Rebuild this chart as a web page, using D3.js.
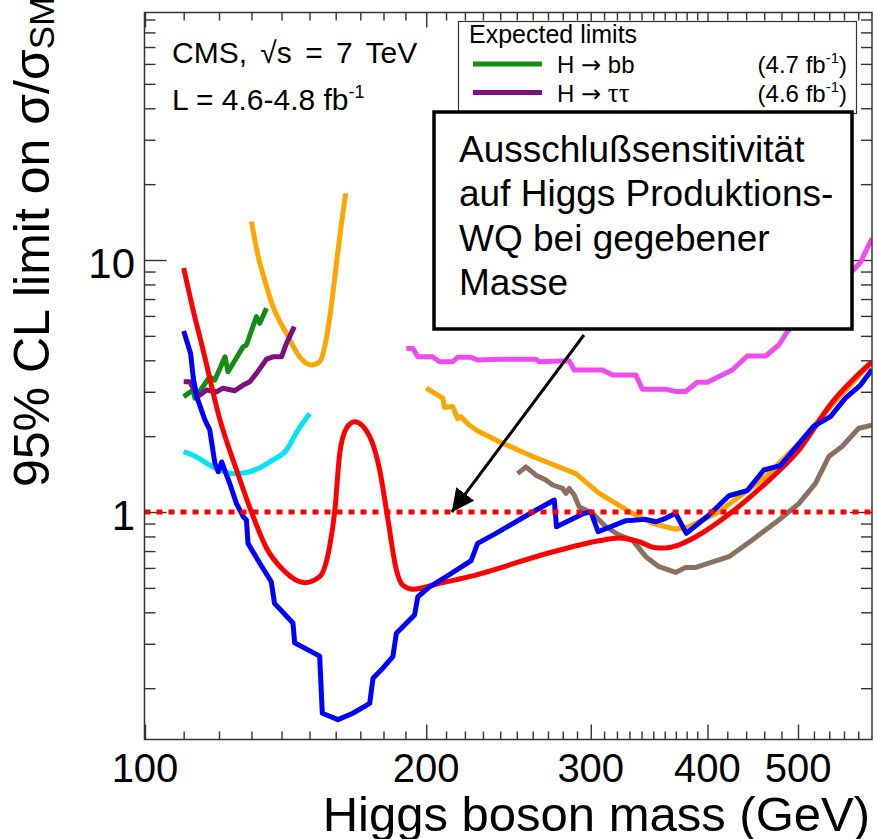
<!DOCTYPE html>
<html>
<head>
<meta charset="utf-8">
<script src="https://cdn.jsdelivr.net/npm/d3@7"></script>
<style>
  body { margin: 0; background: #fff; }
  svg { display: block; font-family: "Liberation Sans", Arial, Helvetica, sans-serif; }
</style>
</head>
<body>
<script>
// 95% CL expected / observed limits, Higgs mass in GeV

// combined expected
const redMass  = [110, 112.6, 115.4, 120.3, 125.3, 130, 134.9, 140.5, 148.2, 153.8, 157.6, 159.6, 161.6, 164.3, 167.6, 174, 178.3, 182, 185.8, 188.7, 193.5, 206.6, 222.4, 272.9, 306.3, 321.7, 337.9, 352.2, 360.8, 369.8, 388.6, 424.8, 461.5, 501, 543.3, 600];
const redLimit = [9.3, 6.33, 4.39, 2.32, 1.47, 1.0, 0.72, 0.59, 0.524, 0.554, 0.728, 1.0, 1.71, 2.15, 2.28, 1.99, 1.47, 0.93, 0.589, 0.513, 0.494, 0.521, 0.554, 0.694, 0.769, 0.788, 0.762, 0.722, 0.72, 0.733, 0.798, 1.0, 1.30, 1.76, 2.71, 3.95];

// combined observed
const blueMass  = [110, 111.9, 112.6, 113.6, 115.9, 117.3, 118.8, 119.8, 120.8, 123.2, 125.3, 127.4, 128.4, 128.9, 132.7, 136.5, 137.6, 144, 144.6, 153.8, 154.8, 160.9, 166.9, 174, 175.4, 179.7, 184.2, 185.8, 190.4, 194.3, 195.9, 201.6, 210.1, 223.4, 227, 237.5, 260, 274.2, 275.7, 295.1, 300.1, 305.5, 327.1, 343.6, 352.2, 360.8, 369.8, 379.7, 401.5, 421.7, 441, 459.6, 478.7, 519.7, 541.6, 562, 583.2, 600];
const blueLimit = [5.23, 4.26, 3.44, 2.87, 2.32, 2.12, 1.56, 1.445, 1.58, 1.30, 1.08, 0.958, 0.93, 0.751, 0.626, 0.529, 0.434, 0.363, 0.303, 0.268, 0.159, 0.150, 0.159, 0.174, 0.219, 0.24, 0.267, 0.330, 0.362, 0.390, 0.461, 0.505, 0.554, 0.641, 0.751, 0.823, 1.0, 1.116, 0.874, 0.988, 1.0, 0.835, 0.924, 0.935, 0.915, 0.944, 0.988, 0.823, 0.973, 1.16, 1.215, 1.468, 1.527, 2.19, 2.39, 2.83, 3.19, 3.68];

// WW, low and high mass ranges
const orangeLowMass   = [130, 132.2, 134.3, 137.1, 141.7, 146.4, 150.7, 153.8, 156.4, 158.3, 160.3, 162.3, 164];
const orangeLowLimit  = [14.2, 10.3, 8.33, 6.53, 5.12, 4.13, 3.83, 3.95, 4.9, 6.6, 9.7, 14.0, 18.4];
const orangeHighMass  = [200, 208.3, 209.2, 213.5, 216.1, 217.9, 222.4, 228, 239.5, 260, 289.2, 306.3, 332.4, 349.1, 369.8, 382, 411.2, 461.5, 501, 543.3, 600];
const orangeHighLimit = [3.10, 2.83, 2.60, 2.62, 2.35, 2.39, 2.21, 2.08, 1.90, 1.66, 1.42, 1.186, 0.988, 0.902, 0.854, 0.874, 1.0, 1.38, 1.87, 2.65, 3.94];

// gamma gamma
const cyanMass  = [110, 112.6, 118.3, 124.3, 129.5, 137.1, 141.7, 145.4, 150.1];
const cyanLimit = [1.735, 1.68, 1.51, 1.42, 1.445, 1.61, 1.76, 2.08, 2.46];

// H -> bb
const greenMass  = [110, 112.6, 113.1, 117.3, 118.8, 121.8, 122.7, 127.4, 128.4, 131.6, 132.7, 134.9];
const greenLimit = [2.87, 3.05, 2.83, 3.44, 3.34, 4.13, 3.60, 4.53, 4.60, 5.96, 5.61, 6.43];

// H -> tautau
const purpleMass  = [110, 111.7, 113.1, 114.5, 116.4, 119.3, 121.2, 124.8, 127.4, 129.5, 131.6, 134.9, 137.1, 140, 141.7, 144.5];
const purpleLimit = [3.29, 3.29, 3.0, 2.91, 3.05, 3.0, 3.10, 3.03, 3.19, 3.29, 3.55, 4.04, 4.13, 4.13, 4.67, 5.44];

// ZZ -> 2l2tau etc.
const magentaMass  = [190.4, 193.5, 195.9, 203.2, 206.6, 213.5, 216.1, 223.4, 227, 239.5, 262.1, 264.2, 284.5, 288, 308.8, 316.5, 335.2, 340.7, 360.9, 369.8, 379, 390, 399.9, 425.2, 441.2, 461.6, 476.9, 486.8, 526.3, 566.5, 583.5, 600];
const magentaLimit = [4.46, 4.46, 4.13, 4.13, 3.95, 3.95, 4.11, 4.11, 4.01, 4.04, 4.04, 3.95, 3.98, 3.66, 3.66, 3.50, 3.50, 3.07, 3.07, 3.01, 3.01, 3.27, 3.27, 3.66, 4.16, 4.16, 4.60, 5.19, 6.94, 8.72, 9.82, 12.2];

// ZZ -> 4l / 2l2nu
const brownMass  = [250.5, 255.7, 262.1, 268.6, 273.1, 279.9, 282.2, 284.5, 288, 291.5, 301.3, 311.4, 321.7, 332.4, 343.6, 354.9, 369.8, 379, 388.6, 421.7, 446.7, 476.9, 501, 522, 539.4, 557.3, 580.7, 600];
const brownLimit = [1.42, 1.51, 1.40, 1.34, 1.28, 1.24, 1.186, 1.24, 1.168, 1.05, 0.988, 0.874, 0.81, 0.774, 0.665, 0.607, 0.576, 0.603, 0.603, 0.665, 0.774, 0.93, 1.08, 1.30, 1.66, 1.82, 2.15, 2.21];

// axis ticks
const xLabelTicks = [100, 200, 300, 400, 500];
const xMinorTicks = [110, 120, 130, 140, 150, 160, 170, 180, 190,
                     210, 220, 230, 240, 250, 260, 270, 280, 290,
                     310, 320, 330, 340, 350, 360, 370, 380, 390,
                     420, 440, 460, 480, 520, 540, 560, 580];
const yLabelTicks = [1, 10];
const yMinorTicks = [0.2, 0.3, 0.4, 0.5, 0.6, 0.7, 0.8, 0.9,
                     2, 3, 4, 5, 6, 7, 8, 9,
                     20, 30, 40, 50, 60, 70, 80, 90];

// annotation arrow: tail and head in (mass, limit)
const arrowFrom = [295, 5.04];
const arrowTo   = [213, 1.0];

const legendRows = [
  {label: "H", decay: "bb",  lumi: "4.7", color: "#138d13", serif: false},
  {label: "H", decay: "ττ",  lumi: "4.6", color: "#7f0f80", serif: true}
];
const boxLines = ["Ausschlußsensitivität", "auf Higgs Produktions-", "WQ bei gegebener", "Masse"];

let width = 875;
let height = 839;
let svg = d3.select("body").append("svg")
            .attr("width", width)
            .attr("height", height);

let plotLeft = 144.5, plotRight = 872, plotTop = 12.5, plotBottom = 739.5;

let x = d3.scaleLog().domain([100, 600]).range([145, 872]);
let y = d3.scaleLog().domain([0.1257, 96.4]).range([739, 12]);

let defs = svg.append("defs");
defs.append("clipPath").attr("id", "plotclip")
    .append("rect")
    .attr("x", plotLeft).attr("y", plotTop)
    .attr("width", plotRight - plotLeft).attr("height", plotBottom - plotTop);

// ---- axes (ticks inward, mirrored on all four sides)
function styleAxis(g) {
  g.select(".domain").remove();
  g.selectAll(".tick line").attr("stroke", "#333").attr("stroke-width", 1.4);
}

function tickAxis(axisFn, values, size, transform) {
  svg.append("g")
     .attr("transform", transform)
     .call(axisFn.tickValues(values).tickSize(size).tickFormat(""))
     .call(styleAxis);
}

tickAxis(d3.axisBottom(x), xMinorTicks, -8, `translate(0,${plotBottom})`);
tickAxis(d3.axisBottom(x), xLabelTicks, -15, `translate(0,${plotBottom})`);
tickAxis(d3.axisTop(x), xMinorTicks, -8, `translate(0,${plotTop})`);
tickAxis(d3.axisTop(x), xLabelTicks, -15, `translate(0,${plotTop})`);
tickAxis(d3.axisLeft(y), yMinorTicks, -11, `translate(${plotLeft},0)`);
tickAxis(d3.axisLeft(y), yLabelTicks, -22, `translate(${plotLeft},0)`);
tickAxis(d3.axisRight(y), yMinorTicks, -11, `translate(${plotRight},0)`);
tickAxis(d3.axisRight(y), yLabelTicks, -22, `translate(${plotRight},0)`);

// tick labels
svg.append("g").selectAll("text")
   .data(xLabelTicks)
   .enter().append("text")
   .attr("x", d => x(d))
   .attr("y", 782)
   .attr("text-anchor", "middle")
   .attr("font-size", 40)
   .text(d => d);

svg.append("g").selectAll("text")
   .data(yLabelTicks)
   .enter().append("text")
   .attr("x", 135)
   .attr("y", d => y(d) + 18)
   .attr("text-anchor", "end")
   .attr("font-size", 42)
   .text(d => d);

// axis titles
svg.append("text")
   .attr("x", 870)
   .attr("y", 831)
   .attr("text-anchor", "end")
   .attr("font-size", 49)
   .text("Higgs boson mass (GeV)");

let ytitle = svg.append("text")
   .attr("transform", "translate(49,487) rotate(-90)")
   .attr("font-size", 50)
   .text("95% CL limit on σ/σ");
ytitle.append("tspan").attr("font-size", 35).attr("dy", 5).text("SM");

// ---- curves
let plot = svg.append("g").attr("clip-path", "url(#plotclip)");

function drawCurve(masses, limits, color, curve) {
  let pts = masses.map((m, i) => [m, limits[i]]);
  let line = d3.line()
               .x(d => x(d[0]))
               .y(d => y(d[1]))
               .curve(curve || d3.curveLinear);
  plot.append("path")
      .datum(pts)
      .attr("d", line)
      .attr("fill", "none")
      .attr("stroke", color)
      .attr("stroke-width", 5)
      .attr("stroke-linejoin", "round")
      .attr("stroke-linecap", "butt");
}

drawCurve(orangeLowMass, orangeLowLimit, "#ffa500", d3.curveMonotoneX);
drawCurve(orangeHighMass, orangeHighLimit, "#ffa500");
drawCurve(brownMass, brownLimit, "#8b705f");
drawCurve(magentaMass, magentaLimit, "#ef4bef");
drawCurve(cyanMass, cyanLimit, "#00e4f4", d3.curveMonotoneX);
drawCurve(greenMass, greenLimit, "#138d13");
drawCurve(purpleMass, purpleLimit, "#7f0f80");
drawCurve(redMass, redLimit, "#ff0000", d3.curveMonotoneX);
drawCurve(blueMass, blueLimit, "#0000ff");

// SM reference at 1
plot.append("line")
    .attr("x1", plotLeft).attr("x2", plotRight)
    .attr("y1", y(1)).attr("y2", y(1))
    .attr("stroke", "#ff0000")
    .attr("stroke-width", 5)
    .attr("stroke-dasharray", "6,6");

// frame
svg.append("rect")
   .attr("x", plotLeft).attr("y", plotTop)
   .attr("width", plotRight - plotLeft).attr("height", plotBottom - plotTop)
   .attr("fill", "none")
   .attr("stroke", "#333")
   .attr("stroke-width", 1.5);

// ---- CMS label
svg.append("text")
   .attr("x", 172).attr("y", 63)
   .attr("font-size", 30)
   .attr("word-spacing", 5)
   .text("CMS, √s = 7 TeV");
let lumi = svg.append("text")
   .attr("x", 172).attr("y", 110)
   .attr("font-size", 30)
   .text("L = 4.6-4.8 fb");
lumi.append("tspan").attr("font-size", 18).attr("dy", -12).text("-1");

// ---- legend
let legend = svg.append("g");
legend.append("rect")
      .attr("x", 458.5).attr("y", 21.5)
      .attr("width", 398).attr("height", 92)
      .attr("fill", "#fff")
      .attr("stroke", "#333")
      .attr("stroke-width", 1.2);
legend.append("text")
      .attr("x", 469).attr("y", 43)
      .attr("font-size", 25)
      .text("Expected limits");

legendRows.forEach(function(r, i) {
  let cy = 64 + i * 28.5;
  legend.append("line")
        .attr("x1", 473).attr("x2", 542)
        .attr("y1", cy).attr("y2", cy)
        .attr("stroke", r.color)
        .attr("stroke-width", 5);
  let t = legend.append("text")
        .attr("x", 557).attr("y", cy + 9)
        .attr("font-size", 24)
        .text(r.label + " ");
  t.append("tspan")
   .attr("font-family", "'DejaVu Sans', sans-serif")
   .text("→");
  t.append("tspan").text(" ");
  t.append("tspan")
   .attr("font-family", r.serif ? "'Liberation Serif', 'DejaVu Serif', serif" : null)
   .attr("font-size", r.serif ? 27 : null)
   .text(r.decay);
  let l = legend.append("text")
        .attr("x", 847).attr("y", cy + 9)
        .attr("text-anchor", "end")
        .attr("font-size", 24)
        .text("(" + r.lumi + " fb");
  l.append("tspan").attr("font-size", 15).attr("dy", -10).text("-1");
  l.append("tspan").attr("dy", 10).text(")");
});

// ---- annotation box with arrow
let note = svg.append("g");
note.append("rect")
    .attr("x", 434).attr("y", 112)
    .attr("width", 418).attr("height", 217)
    .attr("fill", "#fff")
    .attr("stroke", "#000")
    .attr("stroke-width", 3.5);
note.selectAll("text.note")
    .data(boxLines)
    .enter().append("text")
    .attr("class", "note")
    .attr("x", 459)
    .attr("y", (d, i) => 162 + i * 44.3)
    .attr("font-size", 37)
    .text(d => d);

defs.append("marker")
   .attr("id", "arrowhead")
   .attr("viewBox", "0 -6 12 12")
   .attr("refX", 12)
   .attr("refY", 0)
   .attr("markerWidth", 7.5)
   .attr("markerHeight", 7.5)
   .attr("markerUnits", "strokeWidth")
   .attr("orient", "auto")
 .append("path")
   .attr("d", "M0,-6L12,0L0,6Z")
   .attr("fill", "#000");

svg.append("line")
   .attr("x1", x(arrowFrom[0])).attr("y1", y(arrowFrom[1]))
   .attr("x2", x(arrowTo[0])).attr("y2", y(arrowTo[1]))
   .attr("stroke", "#000")
   .attr("stroke-width", 3)
   .attr("marker-end", "url(#arrowhead)");
</script>
</body>
</html>
